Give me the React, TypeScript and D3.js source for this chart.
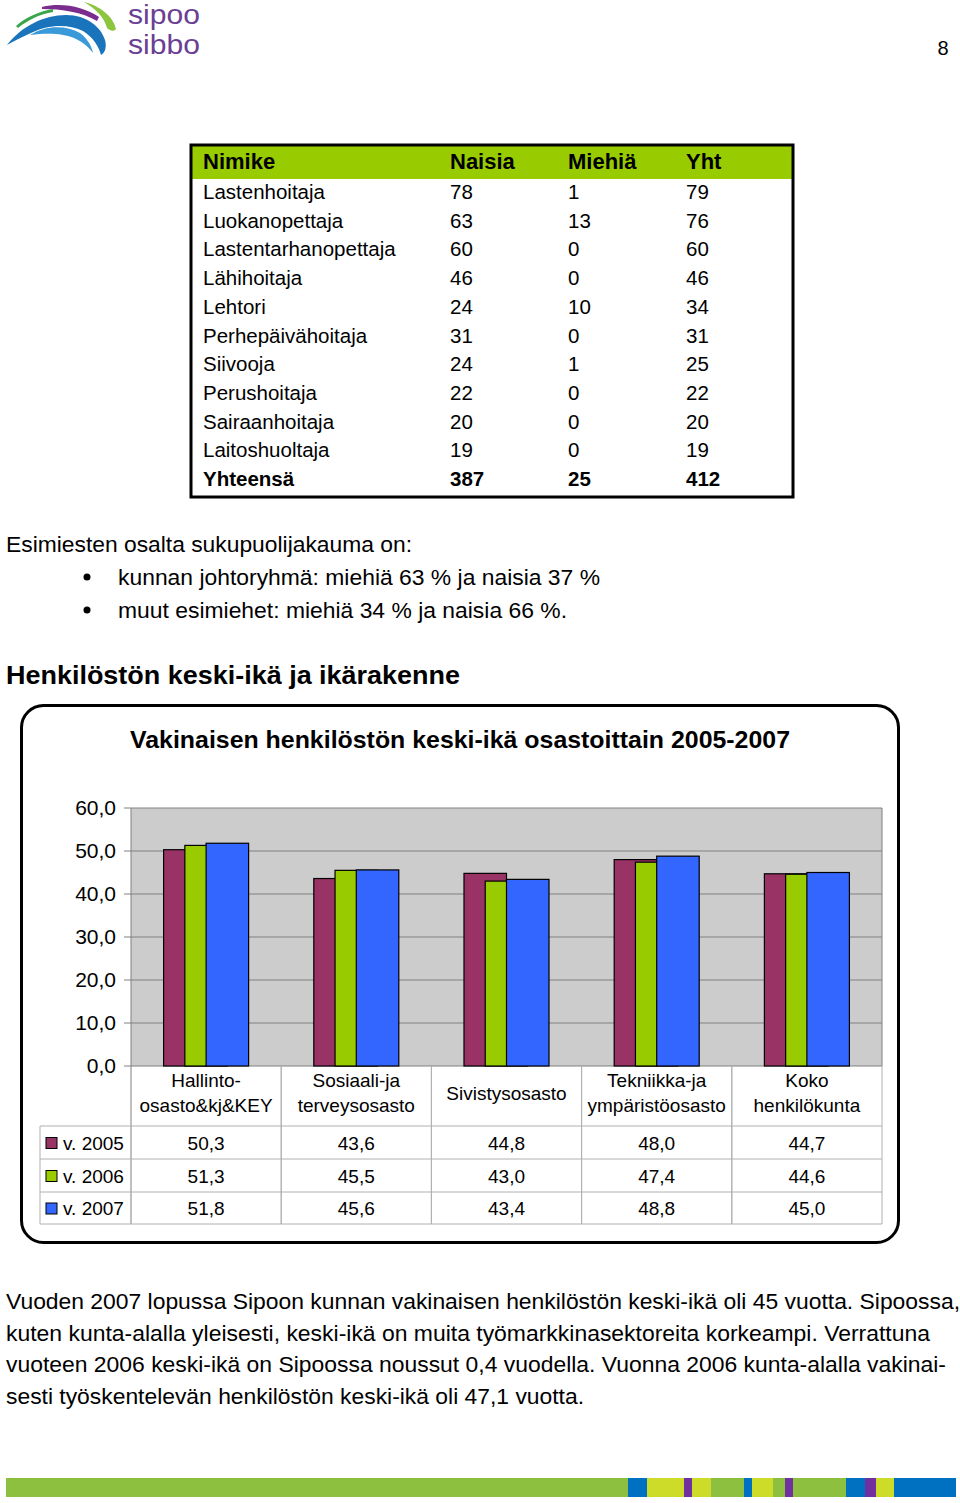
import React from "react";
import * as d3 from "d3";

// ---------- data ----------
const tableHeader = ["Nimike", "Naisia", "Miehiä", "Yht"];
const titles = ["Lastenhoitaja", "Luokanopettaja", "Lastentarhanopettaja", "Lähihoitaja", "Lehtori", "Perhepäivähoitaja", "Siivooja", "Perushoitaja", "Sairaanhoitaja", "Laitoshuoltaja"];
const women = [78, 63, 60, 46, 24, 31, 24, 22, 20, 19];
const men = [1, 13, 0, 0, 10, 0, 1, 0, 0, 0];
const totals = [79, 76, 60, 46, 34, 31, 25, 22, 20, 19];
const sumRow = ["Yhteensä", "387", "25", "412"];

const categories = ["Hallinto-\nosasto&kj&KEY", "Sosiaali-ja\nterveysosasto", "Sivistysosasto", "Tekniikka-ja\nympäristöosasto", "Koko\nhenkilökunta"];
const seriesNames = ["v. 2005", "v. 2006", "v. 2007"];
const v2005 = [50.3, 43.6, 44.8, 48.0, 44.7];
const v2006 = [51.3, 45.5, 43.0, 47.4, 44.6];
const v2007 = [51.8, 45.6, 43.4, 48.8, 45.0];
const yTicks = [0, 10, 20, 30, 40, 50, 60];

const seriesColors = ["#993366", "#99cc00", "#3366ff"];
const FONT = "'Liberation Sans', Arial, sans-serif";

const fmt = (v: number) => v.toFixed(1).replace(".", ",");

function Logo() {
  return (
    <g>
      <path d="M42,7 C62,2 84,7 99,17 L97,21 C82,12 62,9 42,9 Z" fill="#7b2d8e" />
      <path d="M84,2 C100,6 113,16 116,29 C114,32 110,31 107,28 C104,17 96,9 84,2 Z" fill="#8cc63f" />
      <path d="M16,26 C26,17 40,11 53,9 L53,12 C40,14 28,20 18,28 Z" fill="#3aa54a" />
      <path d="M7,45 C22,26 44,15 66,15 C87,15 101,27 105,40 C107,47 105,53 101,55 C99,47 93,37 83,31 C67,23 47,25 31,33 C22,37 14,41 7,45 Z" fill="#1a74bb" />
      <path d="M30,35 C46,25 66,25 80,33 C88,39 92,47 93,53 C87,45 77,37 63,35 C51,33 41,34 30,35 Z" fill="#3a9ad9" />
      <text x={128} y={24} fontFamily={FONT} fontSize={27} fill="#6b3f94" textLength={72} lengthAdjust="spacingAndGlyphs">sipoo</text>
      <text x={128} y={54} fontFamily={FONT} fontSize={27} fill="#6b3f94" textLength={72} lengthAdjust="spacingAndGlyphs">sibbo</text>
    </g>
  );
}

function TopTable() {
  const x0 = 191, x1 = 793, yTop = 145, yBot = 497;
  const colX = [203, 450, 568, 686];
  const rowY = titles.map((_, i) => 192 + i * 28.7);
  const sumY = 192 + titles.length * 28.7;
  return (
    <g fontFamily={FONT}>
      <rect x={x0} y={yTop + 1} width={x1 - x0} height={33} fill="#99cc00" />
      <rect x={x0} y={yTop} width={x1 - x0} height={yBot - yTop} fill="none" stroke="#000" strokeWidth={3} />
      {tableHeader.map((h, i) => (
        <text key={h} x={colX[i]} y={169} fontSize={22} fontWeight="bold">{h}</text>
      ))}
      {titles.map((t, r) => (
        <g key={t} fontSize={20.5}>
          <text x={colX[0]} y={rowY[r] + 7}>{t}</text>
          <text x={colX[1]} y={rowY[r] + 7}>{women[r]}</text>
          <text x={colX[2]} y={rowY[r] + 7}>{men[r]}</text>
          <text x={colX[3]} y={rowY[r] + 7}>{totals[r]}</text>
        </g>
      ))}
      {sumRow.map((s, i) => (
        <text key={i} x={colX[i]} y={sumY + 7} fontSize={20.5} fontWeight="bold">{s}</text>
      ))}
    </g>
  );
}

function Chart() {
  const plotL = 131, plotR = 882, plotT = 808, plotB = 1066;
  const y = d3.scaleLinear().domain([0, 60]).range([plotB, plotT]);
  const x = d3.scaleBand<string>().domain(categories).range([plotL, plotR]);
  const bw = x.bandwidth() * 0.283;
  const series = [v2005, v2006, v2007];
  const rowTops = [1126, 1159, 1192, 1224];
  const gridColor = "#808080";
  const tableLine = "#b0b0b0";
  return (
    <g fontFamily={FONT}>
      <rect x={21.5} y={705.5} width={877} height={537} rx={22} fill="#fff" stroke="#000" strokeWidth={3} />
      <text x={460} y={748} textAnchor="middle" fontSize={24} fontWeight="bold" textLength={660} lengthAdjust="spacingAndGlyphs">Vakinaisen henkilöstön keski-ikä osastoittain 2005-2007</text>
      <rect x={plotL} y={plotT} width={plotR - plotL} height={plotB - plotT} fill="#cccccc" />
      {yTicks.map((t) => (
        <g key={t}>
          <line x1={plotL - 7} x2={plotR} y1={y(t)} y2={y(t)} stroke={gridColor} strokeWidth={1} />
          <text x={116} y={y(t) + 7} textAnchor="end" fontSize={21}>{fmt(t)}</text>
        </g>
      ))}
      <line x1={plotL} x2={plotL} y1={plotT} y2={rowTops[3]} stroke={gridColor} />
      <line x1={plotR} x2={plotR} y1={plotT} y2={plotB} stroke={gridColor} />
      {categories.map((c, ci) => {
        const cx = (x(c) as number) + x.bandwidth() / 2;
        return (
          <g key={c}>
            {series.map((s, si) => (
              <rect key={si} x={cx - bw + si * bw / 2} y={y(s[ci])} width={bw} height={plotB - y(s[ci])}
                fill={seriesColors[si]} stroke="#000" strokeWidth={1.2} />
            ))}
          </g>
        );
      })}
      {/* data table */}
      {categories.map((c, ci) => {
        const cx = (x(c) as number) + x.bandwidth() / 2;
        const lines = c.split("\n");
        return (
          <g key={c}>
            {lines.map((l, li) => (
              <text key={li} x={cx} y={lines.length === 1 ? 1100 : 1087 + li * 25} textAnchor="middle" fontSize={19}>{l}</text>
            ))}
            {series.map((s, si) => (
              <text key={si} x={cx} y={(rowTops[si] + rowTops[si + 1]) / 2 + 7} textAnchor="middle" fontSize={19}>{fmt(s[ci])}</text>
            ))}
          </g>
        );
      })}
      {categories.map((c) => (
        <line key={c} x1={(x(c) as number) + x.bandwidth()} x2={(x(c) as number) + x.bandwidth()} y1={plotB} y2={rowTops[3]} stroke={tableLine} />
      ))}
      {categories.slice(1).map((c) => (
        <line key={c} x1={x(c) as number} x2={x(c) as number} y1={plotB} y2={rowTops[3]} stroke={tableLine} />
      ))}
      {rowTops.map((ry) => (
        <line key={ry} x1={40} x2={plotR} y1={ry} y2={ry} stroke={tableLine} />
      ))}
      <line x1={40} x2={40} y1={rowTops[0]} y2={rowTops[3]} stroke={tableLine} />
      {seriesNames.map((n, si) => {
        const cy = (rowTops[si] + rowTops[si + 1]) / 2;
        return (
          <g key={n}>
            <rect x={46} y={cy - 5} width={11} height={11} fill={seriesColors[si]} stroke="#000" strokeWidth={1} />
            <text x={63} y={cy + 7} fontSize={19}>{n}</text>
          </g>
        );
      })}
    </g>
  );
}

const bottomSegs: [number, number, string][] = [
  [6, 628, "#8dc03f"], [628, 647, "#0070c0"], [647, 684, "#cddc28"], [684, 692, "#7030a0"], [692, 711, "#cddc28"],
  [711, 744, "#8dc03f"], [744, 752, "#0070c0"], [752, 773, "#cddc28"], [773, 785, "#8dc03f"], [785, 793, "#7030a0"],
  [793, 846, "#8dc03f"], [846, 865, "#0070c0"], [865, 876, "#7030a0"], [876, 894, "#cddc28"], [894, 956, "#0070c0"],
];

export default function App() {
  return (
    <svg width={960} height={1503} style={{ position: "absolute", left: 0, top: 0, background: "#fff" }} fontFamily={FONT}>
      <rect width={960} height={1503} fill="#fff" />
      <Logo />
      <text x={943} y={55} textAnchor="middle" fontSize={20}>8</text>
      <TopTable />
      <g fontSize={22.5}>
        <text x={6} y={552} textLength={406} lengthAdjust="spacingAndGlyphs">Esimiesten osalta sukupuolijakauma on:</text>
        <circle cx={87} cy={577} r={3.5} fill="#000" />
        <text x={118} y={585} textLength={482} lengthAdjust="spacingAndGlyphs">kunnan johtoryhmä: miehiä 63 % ja naisia 37 %</text>
        <circle cx={87} cy={610} r={3.5} fill="#000" />
        <text x={118} y={618} textLength={449} lengthAdjust="spacingAndGlyphs">muut esimiehet: miehiä 34 % ja naisia 66 %.</text>
      </g>
      <text x={6} y={684} fontSize={25} fontWeight="bold" textLength={454} lengthAdjust="spacingAndGlyphs">Henkilöstön keski-ikä ja ikärakenne</text>
      <Chart />
      <g fontSize={22}>
        <text x={6} y={1309} textLength={954} lengthAdjust="spacingAndGlyphs">Vuoden 2007 lopussa Sipoon kunnan vakinaisen henkilöstön keski-ikä oli 45 vuotta. Sipoossa,</text>
        <text x={6} y={1341} textLength={924} lengthAdjust="spacingAndGlyphs">kuten kunta-alalla yleisesti, keski-ikä on muita työmarkkinasektoreita korkeampi. Verrattuna</text>
        <text x={6} y={1372} textLength={940} lengthAdjust="spacingAndGlyphs">vuoteen 2006 keski-ikä on Sipoossa noussut 0,4 vuodella. Vuonna 2006 kunta-alalla vakinai-</text>
        <text x={6} y={1404} textLength={578} lengthAdjust="spacingAndGlyphs">sesti työskentelevän henkilöstön keski-ikä oli 47,1 vuotta.</text>
      </g>
      {bottomSegs.map(([a, b, c], i) => (
        <rect key={i} x={a} y={1478} width={b - a} height={19} fill={c} />
      ))}
    </svg>
  );
}
